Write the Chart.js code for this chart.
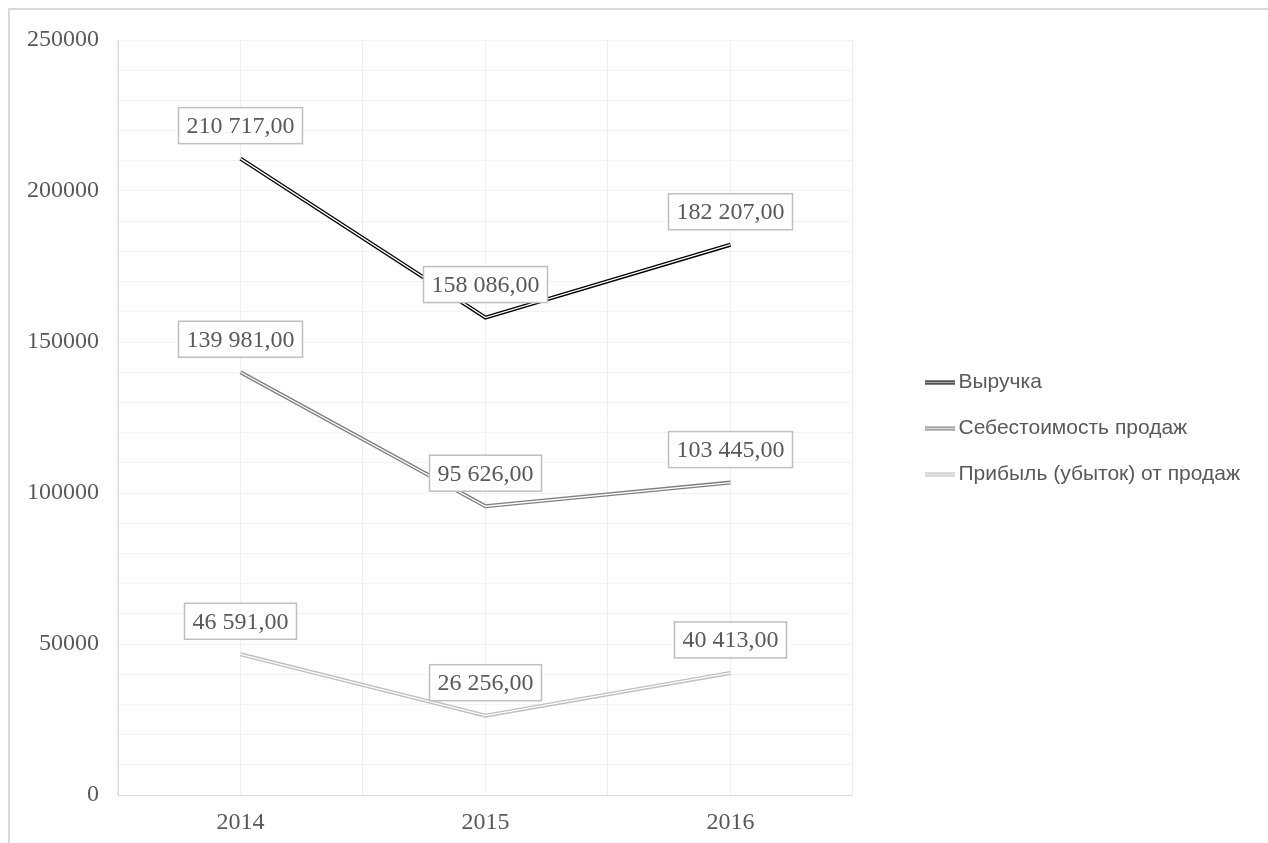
<!DOCTYPE html>
<html lang="ru">
<head>
<meta charset="utf-8">
<title>Выручка, себестоимость и прибыль</title>
<script src="https://cdn.jsdelivr.net/npm/chart.js@4.4.0/dist/chart.umd.min.js"></script>
<style>
    html, body { margin: 0; padding: 0; background: #fff; }
    #wrap { position: relative; width: 1268px; height: 843px; overflow: hidden; }
    #frame {
        position: absolute; left: 8px; top: 8px; right: 0; bottom: 0;
        border-top: 2px solid #d9d9d9; border-left: 2px solid #d9d9d9;
        pointer-events: none;
    }
    #chart { position: absolute; left: 0; top: 0; }
</style>
</head>
<body>
<div id="wrap">
    <canvas id="chart" width="1268" height="843"></canvas>
    <div id="frame"></div>
</div>
<script>
const years = ["2014", "2015", "2016"];
const revenue = [210717, 158086, 182207];
const costOfSales = [139981, 95626, 103445];
const salesProfit = [46591, 26256, 40413];
const yTicks = [0, 50000, 100000, 150000, 200000, 250000];

const SERIF = "'Liberation Serif', 'Times New Roman', serif";
const SANS = "'Liberation Sans', Arial, sans-serif";
const TEXT = "#595959";

/* ===================== HELPERS ===================== */
// 210717 -> "210 717,00"
function formatValue(v) {
    const [int, frac] = v.toFixed(2).split(".");
    return int.replace(/\B(?=(\d{3})+(?!\d))/g, " ") + "," + frac;
}

// small double-line swatch for the legend
function doubleLineSwatch(color) {
    const c = document.createElement("canvas");
    c.width = 30;
    c.height = 6;
    const g = c.getContext("2d");
    g.strokeStyle = color;
    g.lineWidth = 4;
    g.beginPath(); g.moveTo(0, 3); g.lineTo(30, 3); g.stroke();
    g.strokeStyle = "#fff";
    g.lineWidth = 1.3;
    g.beginPath(); g.moveTo(0, 3); g.lineTo(30, 3); g.stroke();
    return c;
}

/* ===================== PLUGINS ===================== */
// white centre stroke over each line -> double line look
const doubleLine = {
    id: "doubleLine",
    afterDatasetDraw(chart, args) {
        const pts = args.meta.data;
        if (!pts.length) return;
        const ctx = chart.ctx;
        ctx.save();
        ctx.strokeStyle = "#fff";
        ctx.lineWidth = 1.3;
        ctx.lineJoin = "miter";
        ctx.beginPath();
        pts.forEach((p, i) => (i ? ctx.lineTo(p.x, p.y) : ctx.moveTo(p.x, p.y)));
        ctx.stroke();
        ctx.restore();
    }
};

// boxed value labels above every point
const valueLabels = {
    id: "valueLabels",
    afterDatasetsDraw(chart) {
        const ctx = chart.ctx;
        ctx.save();
        ctx.font = "24px " + SERIF;
        ctx.textAlign = "center";
        ctx.textBaseline = "middle";
        chart.data.datasets.forEach((ds, di) => {
            const meta = chart.getDatasetMeta(di);
            meta.data.forEach((p, i) => {
                const txt = formatValue(ds.data[i]);
                const w = ctx.measureText(txt).width + 16;
                const h = 36;
                const cx = p.x;
                const cy = p.y - 33;
                ctx.fillStyle = "#fff";
                ctx.fillRect(cx - w / 2, cy - h / 2, w, h);
                ctx.strokeStyle = "#bfbfbf";
                ctx.lineWidth = 1.5;
                ctx.strokeRect(cx - w / 2, cy - h / 2, w, h);
                ctx.fillStyle = TEXT;
                ctx.fillText(txt, cx, cy + 1);
            });
        });
        ctx.restore();
    }
};

/* ===================== CHART ===================== */
const series = [
    { label: "Выручка", data: revenue, color: "#000000" },
    { label: "Себестоимость продаж", data: costOfSales, color: "#7f7f7f" },
    { label: "Прибыль (убыток) от продаж", data: salesProfit, color: "#bfbfbf" }
];

new Chart(document.getElementById("chart"), {
    type: "line",
    data: {
        labels: years,
        datasets: series.map((s) => ({
            label: s.label,
            data: s.data,
            borderColor: s.color,
            backgroundColor: s.color,
            borderWidth: 4,
            pointRadius: 0,
            tension: 0,
            fill: false,
            swatch: doubleLineSwatch(s.color)
        }))
    },
    options: {
        responsive: false,
        animation: false,
        events: [],
        layout: { padding: { top: 20, left: 27, right: 18, bottom: 6 } },
        plugins: {
            tooltip: { enabled: false },
            legend: {
                position: "right",
                align: "center",
                maxWidth: 380,
                labels: {
                    font: { family: SANS, size: 21 },
                    color: TEXT,
                    padding: 25,
                    usePointStyle: true,
                    pointStyleWidth: 16,
                    boxHeight: 6,
                    generateLabels(chart) {
                        return chart.data.datasets.map((ds, i) => ({
                            text: ds.label,
                            pointStyle: ds.swatch,
                            fillStyle: ds.borderColor,
                            strokeStyle: ds.borderColor,
                            lineWidth: 0,
                            fontColor: TEXT,
                            datasetIndex: i,
                            hidden: false
                        }));
                    }
                }
            }
        },
        scales: {
            x: {
                type: "category",
                offset: true,
                grid: { offset: true, color: "#ececec", drawTicks: false },
                border: { color: "#d9d9d9" },
                ticks: { font: { family: SERIF, size: 24 }, color: TEXT, padding: 13 },
                afterFit: (scale) => { scale.height = 42; }
            },
            xMid: {
                type: "category",
                position: "top",
                labels: years,
                offset: true,
                grid: { offset: false, color: "#f0f0f0", drawTicks: false },
                border: { display: false },
                ticks: { display: false },
                afterFit: (scale) => { scale.height = 20; }
            },
            y: {
                min: 0,
                max: 250000,
                afterBuildTicks: (scale) => {
                    scale.ticks = yTicks.map((v) => ({ value: v }));
                },
                grid: { color: "#e6e6e6", drawTicks: false },
                border: { color: "#d9d9d9" },
                ticks: {
                    font: { family: SERIF, size: 24 },
                    color: TEXT,
                    padding: 19,
                    callback: (v) => String(v)
                },
                afterFit: (scale) => { scale.width = 91; }
            },
            yMinor: {
                position: "right",
                min: 0,
                max: 250000,
                grid: { color: "#f3f3f3", drawTicks: false },
                border: { display: false },
                ticks: { display: false, stepSize: 10000 },
                afterFit: (scale) => { scale.width = 54; }
            }
        }
    },
    plugins: [doubleLine, valueLabels]
});
</script>
</body>
</html>
